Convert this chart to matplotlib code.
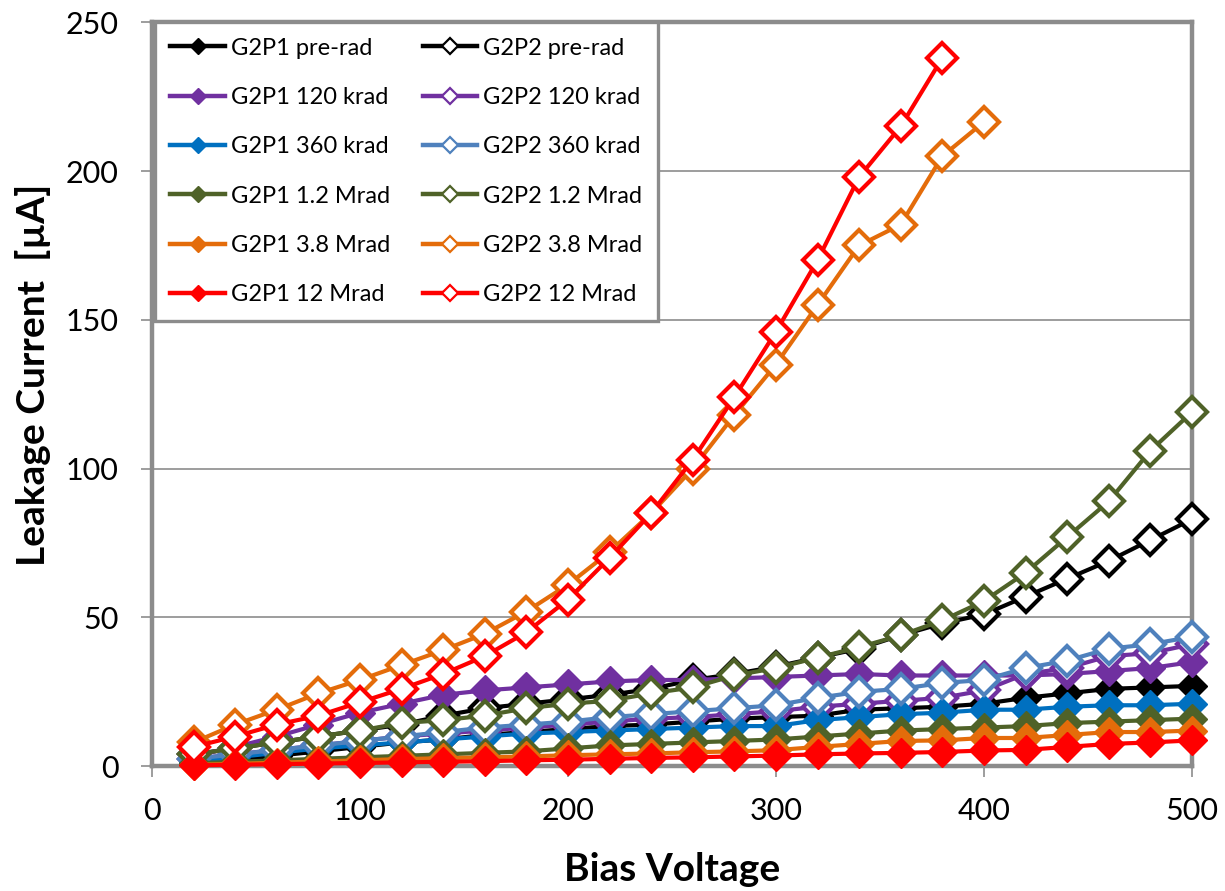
import matplotlib
matplotlib.use("Agg")
import matplotlib.pyplot as plt
from matplotlib.lines import Line2D

plt.rcParams['font.family'] = ['Lato', 'DejaVu Sans']

# bias steps (V)
volts = [20, 40, 60, 80, 100, 120, 140, 160, 180, 200, 220, 240, 260,
         280, 300, 320, 340, 360, 380, 400, 420, 440, 460, 480, 500]

# leakage current (uA), G2P1 = filled, G2P2 = open markers
p1_prerad = [1, 2, 3.5, 5, 6.5, 8, 9, 10.5, 11.5, 12.5, 13.5, 14, 15, 16, 16.5,
             17, 19, 19.5, 20, 21, 23, 24.5, 26, 26.5, 27]
p2_prerad = [4, 6, 8, 10, 12, 14, 17, 19.5, 21, 22.5, 24, 26, 29, 31, 33.5,
             36.5, 39.5, 44, 48, 51, 57, 63, 69, 76, 83]
p1_120k = [3.5, 6.5, 10, 14, 18, 21, 24, 25.5, 26.5, 27.5, 28.5, 29, 29, 29.5,
           30, 30.5, 31, 30.5, 30.5, 30.5, 30.5, 31, 32, 33, 35]
p2_120k = [2.5, 4, 5.5, 7, 8.5, 10, 11, 12, 13, 14, 15, 16, 16.5, 17.5, 18.5,
           20, 21, 22, 23, 25.5, 31, 33, 37, 38, 41]
p1_360k = [1.5, 3, 4.5, 6, 7, 8, 9, 10, 11, 11.5, 12, 12.5, 13, 13.5, 13.5,
           15.5, 16.5, 17.5, 18, 19, 19, 20, 20.5, 20.5, 21]
p2_360k = [2.5, 4, 5.5, 7, 8.5, 10, 11.5, 13, 14, 15, 16.5, 17.5, 18.5, 19.5,
           20.5, 23, 25, 26, 28, 29, 33, 35.5, 39.5, 41, 43.5]
p1_1p2M = [1, 1.5, 2, 2.5, 3, 3.5, 4, 4.5, 5, 6, 7, 7.5, 8, 8.5, 9, 10, 11,
           12, 12.5, 13, 13.5, 14.5, 15, 15.5, 16]
p2_1p2M = [4, 6, 8, 10, 12, 14.5, 15.5, 17, 19.5, 21, 22, 24.5, 26.5, 30.5,
           33, 36.5, 40, 44, 49, 55.5, 65, 77, 89, 106, 119]
p1_3p8M = [0.5, 0.8, 1.2, 1.6, 2, 2.4, 2.7, 3, 3.3, 3.7, 4, 4.3, 4.7, 5, 5.4,
           6.5, 7.5, 8.5, 8.7, 9.5, 9.5, 10.5, 11.5, 11.5, 12]
p2_3p8M = [8, 14, 19, 24.5, 29, 34, 39, 44.5, 52, 61, 72, 85, 100, 118, 135,
           155, 175, 182, 205, 216.5]
p1_12M = [0.3, 0.5, 0.7, 0.9, 1.1, 1.3, 1.5, 1.7, 2, 2.2, 2.5, 2.8, 3, 3.3,
          3.6, 4, 4.3, 4.5, 4.8, 5.3, 5.5, 6.5, 7.5, 8, 8.7]
p2_12M = [6.5, 10, 14, 17, 21.5, 26, 31, 37, 45, 56, 70, 85, 103, 124, 146,
          170, 198, 215, 238]

doses = ["pre-rad", "120 krad", "360 krad", "1.2 Mrad", "3.8 Mrad", "12 Mrad"]
p1_series = [p1_prerad, p1_120k, p1_360k, p1_1p2M, p1_3p8M, p1_12M]
p2_series = [p2_prerad, p2_120k, p2_360k, p2_1p2M, p2_3p8M, p2_12M]
p1_colors = ["#000000", "#7030A0", "#0070C0", "#4F6228", "#E46C0A", "#FF0000"]
p2_colors = ["#000000", "#7030A0", "#4F81BD", "#4F6228", "#E46C0A", "#FF0000"]

fig = plt.figure(figsize=(12.25, 8.91), dpi=100)
ax = fig.add_axes([0.124, 0.140, 0.849, 0.835])

lw = 3
z = 3
for i in range(len(doses)):
    y1 = p1_series[i]
    ax.plot(volts[:len(y1)], y1, color=p1_colors[i], lw=lw, marker='D',
            ms=15, mfc=p1_colors[i], mec=p1_colors[i], mew=1,
            clip_on=False, zorder=z)
    z += 1
    y2 = p2_series[i]
    ax.plot(volts[:len(y2)], y2, color=p2_colors[i], lw=lw, marker='D',
            ms=15.5, mfc='white', mec=p2_colors[i], mew=3,
            clip_on=False, zorder=z)
    z += 1

ax.set_xlim(0, 500)
ax.set_ylim(0, 250)
ax.set_xticks(range(0, 501, 100))
ax.set_yticks(range(0, 251, 50))
ax.grid(axis='y', color='#8c8c8c', lw=1.2)
ax.set_axisbelow(True)
for s in ax.spines.values():
    s.set_color('#8c8c8c')
    s.set_linewidth(3.2)
ax.tick_params(axis='both', direction='out', length=8, width=1.2,
               color='#8c8c8c', labelsize=22)
ax.tick_params(axis='y', pad=16)
ax.tick_params(axis='x', pad=14)

ax.set_xlabel("Bias Voltage", fontsize=28, fontweight='bold')
ax.xaxis.set_label_coords(0.5, -0.115)
ax.set_ylabel("Leakage Current  [\u00b5A]", fontsize=28, fontweight='bold')
ax.yaxis.set_label_coords(-0.097, 0.526)

# legend: small markers, G2P1 in the left column, G2P2 in the right
handles, labels = [], []
for i, d in enumerate(doses):
    handles.append(Line2D([], [], color=p1_colors[i], lw=3.2, marker='D', ms=8,
                          mfc=p1_colors[i], mec=p1_colors[i]))
    labels.append("G2P1 " + d)
for i, d in enumerate(doses):
    handles.append(Line2D([], [], color=p2_colors[i], lw=3.2, marker='D', ms=8,
                          mfc='white', mec=p2_colors[i], mew=1.6))
    labels.append("G2P2 " + d)

leg = ax.legend(handles, labels, ncol=2, loc='upper left',
                bbox_to_anchor=(0.003, 1.0), borderaxespad=0,
                fontsize=17, frameon=True, fancybox=False, framealpha=1,
                handlelength=2.3, handletextpad=0.25, columnspacing=1.4,
                labelspacing=1.2, borderpad=0.65)
leg.get_frame().set_edgecolor('#8c8c8c')
leg.get_frame().set_linewidth(2.4)
leg.set_zorder(50)

fig.savefig("out.png", dpi=100)
